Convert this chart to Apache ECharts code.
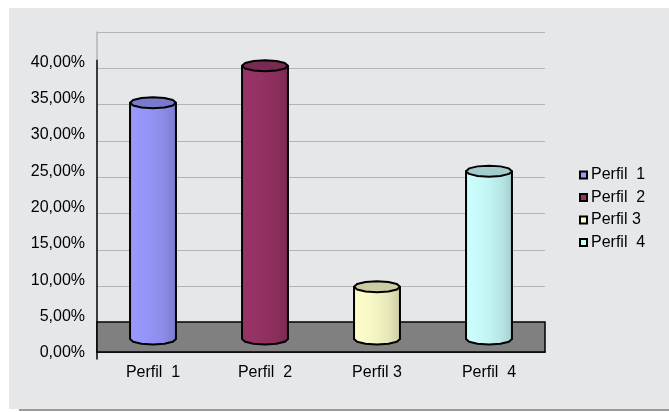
<!DOCTYPE html>
<html>
<head>
<meta charset="utf-8">
<script src="https://cdn.jsdelivr.net/npm/echarts@6/dist/echarts.min.js"></script>
<style>
  html, body { margin: 0; padding: 0; background: #fff; }
  #bg { position: absolute; left: 9px; top: 8px; width: 660px; height: 401px;
        background: #e6e7e9; box-shadow: 10px 2px 0 #9a9a9a; }
  #chart { position: absolute; left: 0; top: 0; width: 669px; height: 412px; }
</style>
</head>
<body>
<div id="bg"></div>
<div id="chart"></div>
<script>
// profiles and their share (in %)
const categories = ['Perfil  1', 'Perfil  2', 'Perfil 3', 'Perfil  4'];
const values = [32.5, 37.6, 7.2, 23.1];
const colors = ['#9999ff', '#993366', '#ffffcc', '#ccffff'];
const yTicks = [0, 5, 10, 15, 20, 25, 30, 35, 40];
const floorRange = [0.96, 5.1];

const DEPTH = 20;   // px the columns sit behind the front edge
const ELL = 5.5;    // half height of the cylinder caps

function shade(hex, k) {
  const n = parseInt(hex.slice(1), 16);
  const r = Math.round(((n >> 16) & 255) * k);
  const g = Math.round(((n >> 8) & 255) * k);
  const b = Math.round((n & 255) * k);
  return 'rgb(' + r + ',' + g + ',' + b + ')';
}

function ring(cx, cy, a, b, from, to, step) {
  const pts = [];
  for (let t = from; step > 0 ? t <= to : t >= to; t += step) {
    const r = t * Math.PI / 180;
    pts.push([cx + a * Math.cos(r), cy + b * Math.sin(r)]);
  }
  return pts;
}

function cylinder(color) {
  return function (params, api) {
    const i = api.value(0);
    const top = api.coord([i, api.value(1)]);
    const base = api.coord([i, 0]);
    const a = api.size([1, 0])[0] * 0.205;
    const cx = top[0];
    const yTop = top[1] - DEPTH;
    const yBase = base[1] - DEPTH;
    const body = [[cx - a, yTop], [cx - a, yBase]]
      .concat(ring(cx, yBase, a, ELL, 180, 0, -30))
      .concat([[cx + a, yTop]]);
    return {
      type: 'group',
      children: [
        {
          type: 'polygon',
          shape: { points: body },
          style: {
            fill: new echarts.graphic.LinearGradient(0, 0, 1, 0, [
              { offset: 0, color: color },
              { offset: 0.4, color: shade(color, 0.97) },
              { offset: 0.75, color: shade(color, 0.9) },
              { offset: 1, color: shade(color, 0.8) }
            ]),
            stroke: '#000', lineWidth: 2, lineJoin: 'round'
          }
        },
        {
          type: 'polygon',
          shape: { points: ring(cx, yTop, a, ELL, 0, 330, 30) },
          style: { fill: shade(color, 0.8), stroke: '#000', lineWidth: 2, lineJoin: 'round' }
        }
      ]
    };
  };
}

const series = [{
  name: 'floor',
  type: 'custom',
  data: [],
  renderItem: () => null,
  z: 1,
  markArea: {
    silent: true,
    itemStyle: { color: '#808080', borderColor: '#000', borderWidth: 1.5 },
    data: [[{ yAxis: floorRange[0] }, { yAxis: floorRange[1] }]]
  }
}];
categories.forEach((name, i) => {
  series.push({
    name: name,
    type: 'custom',
    z: 3,
    itemStyle: { color: colors[i], borderColor: '#000', borderWidth: 1 },
    renderItem: cylinder(colors[i]),
    encode: { x: 0, y: 1 },
    data: [[i, values[i]]]
  });
});

// wall edge is grey above the front corner, black below it
const axisColor = new echarts.graphic.LinearGradient(0, 0, 0, 1, [
  { offset: 0, color: '#b4b4b4' },
  { offset: 0.09, color: '#b4b4b4' },
  { offset: 0.092, color: '#000' },
  { offset: 1, color: '#000' }
]);

const chart = echarts.init(document.getElementById('chart'));
chart.setOption({
  animation: false,
  textStyle: { fontFamily: 'Liberation Sans, Arial, sans-serif' },
  grid: { left: 97, right: 124, top: 32, bottom: 53 },
  legend: {
    data: categories,
    orient: 'vertical',
    left: 579,
    top: 167,
    padding: 0,
    icon: 'rect',
    itemWidth: 7,
    itemHeight: 7,
    itemGap: 6.5,
    selectedMode: false,
    textStyle: { fontSize: 16, color: '#000', lineHeight: 16, padding: [0, 0, 0, -1] }
  },
  xAxis: {
    type: 'category',
    data: categories,
    offset: -7,
    axisLine: { lineStyle: { color: '#000', width: 1.5 } },
    axisTick: { length: 7, lineStyle: { color: '#000', width: 1.5 } },
    axisLabel: { fontSize: 16, color: '#000', margin: 13 },
    splitLine: { show: false }
  },
  yAxis: {
    type: 'value',
    min: 0,
    max: 45,
    interval: 5,
    axisLine: { show: true, lineStyle: { color: axisColor, width: 1.5 } },
    axisTick: { show: false },
    axisLabel: {
      fontSize: 16,
      color: '#000',
      margin: 12,
      lineHeight: 12,
      verticalAlign: 'bottom',
      formatter: (v) => yTicks.indexOf(v) >= 0 ? v.toFixed(2).replace('.', ',') + '%' : ''
    },
    splitLine: { showMinLine: false, lineStyle: { color: '#b4b4b4', width: 1 } }
  },
  series: series
});
</script>
</body>
</html>
